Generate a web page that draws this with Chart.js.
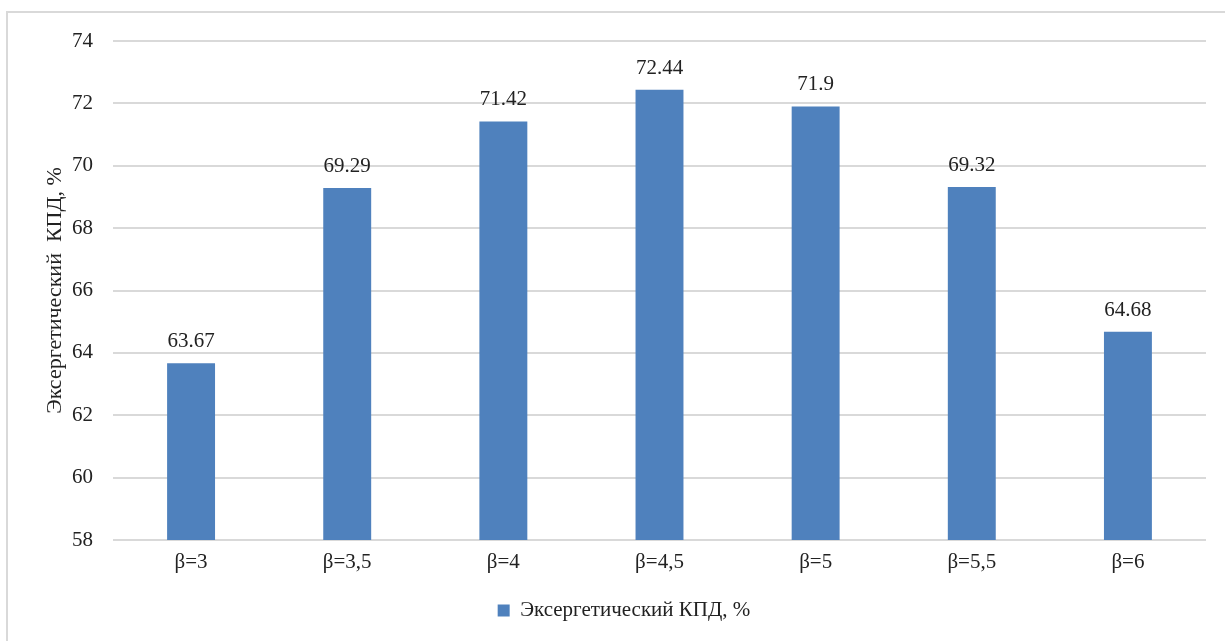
<!DOCTYPE html>
<html>
<head>
<meta charset="utf-8">
<script src="https://cdn.jsdelivr.net/npm/chart.js@4.4.1/dist/chart.umd.min.js"></script>
<style>
  html, body { margin: 0; padding: 0; background: #ffffff; }
  #wrap { position: relative; width: 1225px; height: 641px; }
</style>
</head>
<body>
<div id="wrap"><canvas id="c" width="1225" height="641"></canvas></div>
<script>
// Pressure ratio categories and exergy efficiency values
const categories = ['β=3', 'β=3,5', 'β=4', 'β=4,5', 'β=5', 'β=5,5', 'β=6'];
const efficiency = [63.67, 69.29, 71.42, 72.44, 71.9, 69.32, 64.68];
const seriesName = 'Эксергетический КПД, %';
const axisTitle = 'Эксергетический  КПД, %';
const yMin = 58, yMax = 74, yStep = 2;

const FONT = "'Liberation Serif', 'Times New Roman', serif";
const TEXT = '#222222';
const GRID = '#d9d9d9';
const BAR = '#4f81bd';

// Light frame around the chart
const framePlugin = {
  id: 'frame',
  beforeDraw(chart) {
    const ctx = chart.ctx;
    ctx.save();
    ctx.fillStyle = '#ffffff';
    ctx.fillRect(0, 0, chart.width, chart.height);
    ctx.strokeStyle = GRID;
    ctx.lineWidth = 2;
    ctx.strokeRect(7, 12, chart.width + 20, chart.height + 20);
    ctx.restore();
  }
};

// Nudge the legend so it sits under the middle of the plot
const legendShift = {
  id: 'legendShift',
  afterLayout(chart) {
    if (chart.legend) {
      chart.legend.left += 21;
      chart.legend.right += 21;
    }
  }
};

// Value labels above each bar
const valueLabels = {
  id: 'valueLabels',
  afterDatasetsDraw(chart) {
    const ctx = chart.ctx;
    ctx.save();
    ctx.font = '21px ' + FONT;
    ctx.fillStyle = TEXT;
    ctx.textAlign = 'center';
    ctx.textBaseline = 'alphabetic';
    chart.getDatasetMeta(0).data.forEach((bar, i) => {
      ctx.fillText(String(efficiency[i]), bar.x, bar.y - 16);
    });
    ctx.restore();
  }
};

new Chart(document.getElementById('c'), {
  type: 'bar',
  data: {
    labels: categories,
    datasets: [{
      label: seriesName,
      data: efficiency,
      backgroundColor: BAR,
      borderWidth: 0,
      categoryPercentage: 1.0,
      barPercentage: 0.307
    }]
  },
  options: {
    responsive: false,
    animation: false,
    layout: { padding: { left: 0, right: 19, top: 41, bottom: 10 } },
    plugins: {
      legend: {
        position: 'bottom',
        labels: {
          font: { family: FONT, size: 21 },
          color: TEXT,
          boxWidth: 12,
          boxHeight: 12,
          padding: 10
        }
      },
      tooltip: { enabled: false }
    },
    scales: {
      x: {
        grid: { display: false, drawTicks: false },
        border: { display: false },
        ticks: { font: { family: FONT, size: 21 }, color: TEXT, padding: 10 },
        afterFit(scale) { scale.height = 50; }
      },
      y: {
        min: yMin,
        max: yMax,
        grid: { color: GRID, lineWidth: 2, drawTicks: false },
        border: { display: false },
        ticks: { stepSize: yStep, font: { family: FONT, size: 21 }, color: TEXT, padding: 20 },
        title: {
          display: true,
          text: axisTitle,
          font: { family: FONT, size: 22 },
          color: TEXT,
          padding: { top: 42, bottom: 0 }
        },
        afterFit(scale) { scale.width = 113; }
      }
    }
  },
  plugins: [framePlugin, legendShift, valueLabels]
});
</script>
</body>
</html>
